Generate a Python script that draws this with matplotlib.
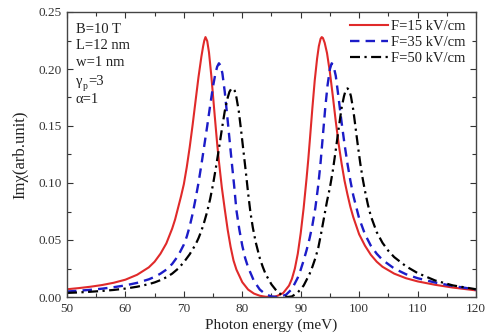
import matplotlib
matplotlib.use("Agg")
import matplotlib.pyplot as plt
from matplotlib.ticker import MultipleLocator, FormatStrFormatter

# ---- data ----
e_15 = [50, 52, 54, 56, 58, 60, 62, 64, 65, 66, 67, 68, 68.5, 69, 69.5, 70, 70.5, 71, 71.5, 72, 72.5,
        73, 73.3, 73.5, 73.7, 74.0, 74.3, 74.7, 75.0, 75.3, 75.7, 76.0, 76.5, 77, 77.5, 78, 78.5, 79,
        80, 81, 82, 83, 84, 84.8,
        85.5, 86, 87, 88, 88.5, 89, 89.5, 90, 90.5, 91, 91.3, 91.6, 92, 92.4, 92.8, 93.1, 93.4, 93.6,
        93.8, 94.1, 94.5, 95.0, 95.5, 96.0, 96.5, 97.0, 97.5, 98, 98.5, 99, 100, 101, 102, 103, 104,
        106, 108, 110, 113, 116, 120]
im_15 = [0.0068, 0.0078, 0.0090, 0.0105, 0.0125, 0.0152, 0.0195, 0.0260, 0.0310, 0.0380, 0.0470,
         0.0600, 0.0680, 0.0780, 0.0880, 0.0990, 0.1140, 0.1314, 0.1510, 0.1719, 0.1927,
         0.2108, 0.2200, 0.2250, 0.2280, 0.2245, 0.2146, 0.1940, 0.1760, 0.1580, 0.1345, 0.1190,
         0.0960, 0.0770, 0.0590, 0.0440, 0.0320, 0.0240,
         0.0130, 0.0065, 0.0030, 0.0011, 0.0002, 0.0,
         0.0003, 0.0010, 0.0035, 0.0100, 0.0160, 0.0250, 0.0380, 0.0560, 0.0780, 0.1040, 0.1210,
         0.1400, 0.1660, 0.1900, 0.2090, 0.2200, 0.2265, 0.2280,
         0.2272, 0.2230, 0.2140, 0.1970, 0.1760, 0.1540, 0.1340, 0.1170, 0.1020, 0.0900, 0.0790,
         0.0700, 0.0550, 0.0450, 0.0370, 0.0310, 0.0265,
         0.0205, 0.0165, 0.0137, 0.0107, 0.0083, 0.0058]

e_35 = [50, 52, 54, 56, 58, 60, 62, 64, 65, 66, 67, 68, 69, 70, 70.5, 71, 71.5, 72, 72.5, 73, 73.5, 74,
        74.5, 75, 75.4, 75.7, 76.0, 76.3, 76.6, 77.0, 77.4, 77.8, 78.2, 78.6, 79.0, 79.5, 80, 80.5, 81,
        82, 83, 84, 85, 85.8,
        86.5, 87.5, 88.5, 89.5, 90, 90.5, 91, 91.5, 92, 92.5, 93, 93.4, 93.8, 94.2, 94.6, 95.0, 95.3,
        95.6, 96.0, 96.5, 97.0, 97.5, 98, 98.5, 99, 100, 101, 102, 103, 104, 106, 108, 110, 113, 116,
        120]
im_35 = [0.0048, 0.0055, 0.0063, 0.0073, 0.0086, 0.0102, 0.0124, 0.0155, 0.0177, 0.0205, 0.0240,
         0.0290, 0.0360, 0.0460, 0.0530, 0.0620, 0.0730, 0.0860, 0.1000, 0.1160, 0.1330, 0.1500,
         0.1680, 0.1850, 0.1960, 0.2020, 0.2050, 0.2030, 0.1960, 0.1800, 0.1600, 0.1390, 0.1180,
         0.0980, 0.0760, 0.0590, 0.0450, 0.0340, 0.0260,
         0.0140, 0.0065, 0.0023, 0.0005, 0.0,
         0.0003, 0.0020, 0.0070, 0.0170, 0.0240, 0.0320, 0.0410, 0.0510, 0.0630, 0.0780, 0.0980,
         0.1180, 0.1420, 0.1660, 0.1860, 0.2000, 0.2050,
         0.2030, 0.1940, 0.1740, 0.1530, 0.1340, 0.1170, 0.1020, 0.0890, 0.0690, 0.0550, 0.0450,
         0.0380, 0.0325, 0.0250, 0.0200, 0.0165, 0.0127, 0.0097, 0.0066]

e_50 = [50, 52, 54, 56, 58, 60, 62, 64, 65, 66, 67, 68, 69, 70, 71, 72, 72.5, 73, 73.5, 74, 74.5, 75,
        75.5, 76, 76.5, 77, 77.4, 77.8, 78.1, 78.4, 78.7, 79.0, 79.4, 79.8, 80.2, 80.6, 81.0, 81.4,
        81.8, 82.3, 83, 83.5, 84, 85, 86, 87, 87.8,
        88.5, 89.5, 90.5, 91.5, 92, 92.5, 93, 93.5, 94, 94.5, 95, 95.5, 96, 96.5, 97, 97.4, 97.7, 98.0,
        98.3, 98.6, 99.0, 99.4, 99.8, 100.2, 100.6, 101, 101.5, 102, 103, 104, 105, 106, 108, 110,
        113, 116, 120]
im_50 = [0.0036, 0.0040, 0.0046, 0.0053, 0.0062, 0.0074, 0.0090, 0.0113, 0.0128, 0.0148, 0.0173,
         0.0205, 0.0248, 0.0305, 0.0375, 0.0460, 0.0515, 0.0580, 0.0660, 0.0750, 0.0860, 0.0990,
         0.1140, 0.1300, 0.1470, 0.1630, 0.1730, 0.1800, 0.1825, 0.1830, 0.1810, 0.1750, 0.1630,
         0.1460, 0.1280, 0.1100, 0.0910, 0.0740, 0.0610, 0.0480, 0.0340, 0.0265, 0.0200, 0.0110,
         0.0045, 0.0010, 0.0,
         0.0005, 0.0040, 0.0100, 0.0200, 0.0265, 0.0340, 0.0430, 0.0560, 0.0700, 0.0840, 0.0960,
         0.1110, 0.1290, 0.1480, 0.1660, 0.1760, 0.1815, 0.1830,
         0.1815, 0.1760, 0.1640, 0.1480, 0.1320, 0.1170, 0.1040, 0.0930, 0.0810, 0.0710, 0.0570,
         0.0475, 0.0405, 0.0350, 0.0270, 0.0210, 0.0145, 0.0102, 0.0068]

labels = ["F=15 kV/cm", "F=35 kV/cm", "F=50 kV/cm"]
params = ["B=10 T", "L=12 nm", "w=1 nm", "γ", "α=1"]

serif = ["Liberation Serif", "DejaVu Serif"]
plt.rcParams["font.family"] = serif

fig = plt.figure(figsize=(4.87, 3.36), dpi=100)
ax = fig.add_axes([67 / 487, 1 - 297 / 336, (476 - 67) / 487, (297 - 12) / 336])

ax.plot(e_15, im_15, color="#e02a2a", lw=1.5, ls="-", label=labels[0])
ax.plot(e_35, im_35, color="#1c1cc8", lw=1.7, ls=(0, (4, 2.6)), label=labels[1])
ax.plot(e_50, im_50, color="black", lw=1.6, ls=(0, (4.5, 2, 1, 2)), label=labels[2])

ax.set_xlim(50, 120)
ax.set_ylim(0, 0.25)
ax.xaxis.set_major_locator(MultipleLocator(10))
ax.xaxis.set_minor_locator(MultipleLocator(5))
ax.yaxis.set_major_locator(MultipleLocator(0.05))
ax.yaxis.set_minor_locator(MultipleLocator(0.025))
ax.yaxis.set_major_formatter(FormatStrFormatter("%.2f"))
ax.tick_params(which="both", direction="in", top=True, right=True, colors="#333333",
               labelsize=9.5, width=0.8)
ax.tick_params(which="major", length=4, pad=4)
ax.tick_params(which="minor", length=3)
for s in ax.spines.values():
    s.set_color("#444444")
    s.set_linewidth(1.0)

ax.set_xlabel("Photon energy (meV)", fontsize=11, color="#222222", labelpad=3)
ax.set_ylabel("Imχ(arb.unit)", fontsize=12, color="#222222", labelpad=7)

leg = ax.legend(loc="upper left", bbox_to_anchor=((350 - 67) / 409, (297 - 20) / 285),
                frameon=False, fontsize=10.5, handlelength=2.6, borderpad=0,
                handletextpad=0.2, labelspacing=0.2, borderaxespad=0)
for t in leg.get_texts():
    t.set_color("#222222")

ty = [0.94, 0.882, 0.822, 0.757, 0.693]
fs = 10.5
for i, p in enumerate(params):
    if p == "γ":
        ax.text(0.022, ty[i], "γ", transform=ax.transAxes, fontsize=fs, va="center", ha="left", color="#222222")
        ax.text(0.038, ty[i] - 0.02, "p", transform=ax.transAxes, fontsize=7, va="center", ha="left", color="#222222")
        ax.text(0.051, ty[i], "=3", transform=ax.transAxes, fontsize=fs, va="center", ha="left", color="#222222")
    else:
        ax.text(0.022, ty[i], p, transform=ax.transAxes, fontsize=fs, va="center", ha="left", color="#222222")

fig.savefig("out.png", dpi=100)
